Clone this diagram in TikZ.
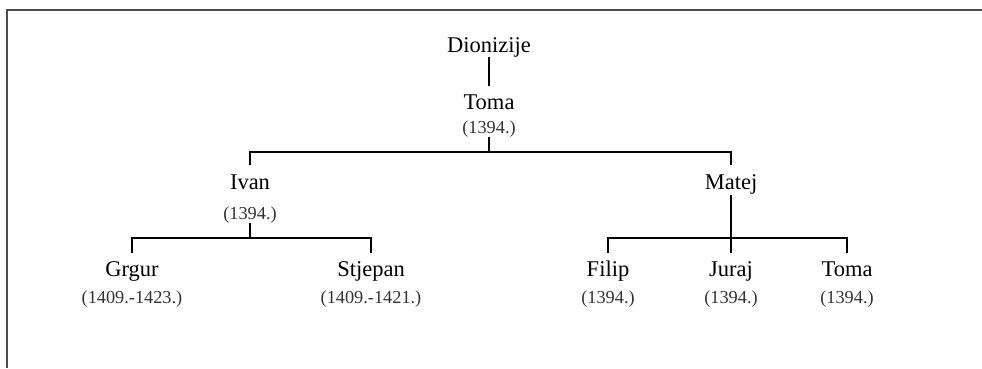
\documentclass[tikz,border=0pt]{standalone}
\usepackage{fontspec}
\setmainfont{Liberation Serif}
\usetikzlibrary{calc}

\begin{document}
\begin{tikzpicture}[x=1pt,y=-1pt,
		person/.style={inner sep=0pt, font=\fontsize{22.5}{27}\selectfont, text height=15pt, text depth=5pt},
		dates/.style={inner sep=0pt, font=\fontsize{18.3}{22}\selectfont, text height=13pt, text depth=4pt, text=black!80},
		tree/.style={line width=2.3pt},
		frame/.style={line width=1.6pt, draw=black!70}]

		\useasboundingbox (0,0) rectangle (982,368);
		\draw[frame] (982,10) -- (7,10) -- (7,368);

		\node[person] (D) at (489,47) {Dionizije};
		\node[person] (T) [below of=D, node distance=57pt] {Toma};
		\node[dates] (Ty) [below of=T, node distance=24.5pt] {(1394.)};

		\node[person] (I) at (250,184) {Ivan};
		\node[dates] (Iy) [below of=I, node distance=30.5pt] {(1394.)};
		\node[person] (M) at (731,184) {Matej};

		\node[person] (G) at (132,271) {Grgur};
		\node[dates] (Gy) [below of=G, node distance=28pt] {(1409.-1423.)};
		\node[person] (S) at (371,271) {Stjepan};
		\node[dates] (Sy) [below of=S, node distance=28pt] {(1409.-1421.)};

		\node[person] (F) at (608,271) {Filip};
		\node[dates] (Fy) [below of=F, node distance=28pt] {(1394.)};
		\node[person] (J) [below of=M, node distance=87pt] {Juraj};
		\node[dates] (Jy) [below of=J, node distance=28pt] {(1394.)};
		\node[person] (T2) at (847,271) {Toma};
		\node[dates] (T2y) [below of=T2, node distance=28pt] {(1394.)};

		\coordinate (busT) at ([yshift=-15pt]Ty.south);
		\coordinate (busI) at ([yshift=-15pt]Iy.south);
		\coordinate (busM) at ([yshift=23pt]J.north);

		\draw[tree, line width=1.9pt, shorten >=8pt] (D.south) -- (T.north);
		\draw[tree] (Ty.south) -- (busT);
		\draw[tree, shorten >=9pt] (busT) -| (I.north);
		\draw[tree, shorten >=9pt] (busT) -| (M.north);

		\draw[tree] (Iy.south) -- (busI);
		\draw[tree, shorten >=8pt] (busI) -| (G.north);
		\draw[tree, shorten >=8pt] (busI) -| (S.north);

		\draw[tree, shorten <=1pt, shorten >=8pt] (M.south) -- (J.north);
		\draw[tree, shorten >=8pt] (busM) -| (F.north);
		\draw[tree, shorten >=8pt] (busM) -| (T2.north);

\end{tikzpicture}
\end{document}
